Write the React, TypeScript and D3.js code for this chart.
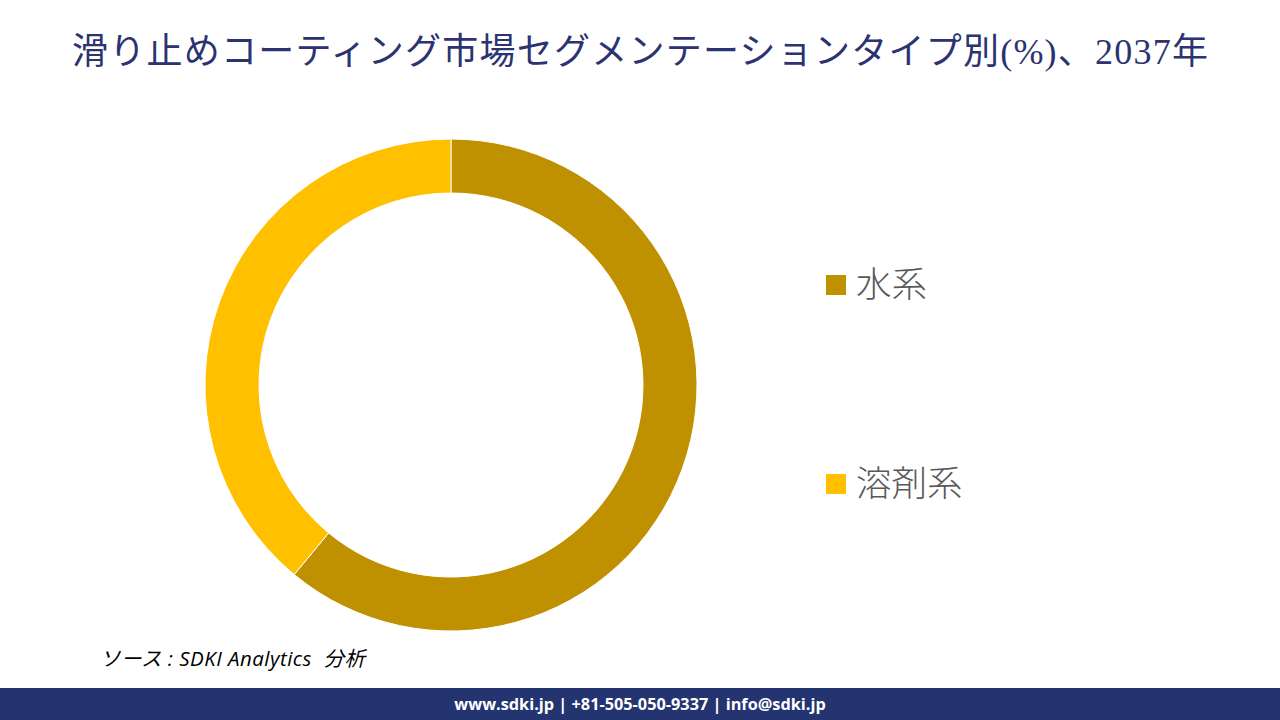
import React, { useEffect, useRef } from "react";
import * as d3 from "d3";

const categories: string[] = ["水系", "溶剤系"];
const values: number[] = [61, 39];
const colors: string[] = ["#BF9000", "#FFC000"];
const titleText = "滑り止めコーティング市場セグメンテーションタイプ別(%)、2037年";
const sourceText = "ソース : SDKI Analytics  分析";
const footerText = "www.sdki.jp | +81-505-050-9337 | info@sdki.jp";

export default function App() {
  const ref = useRef<SVGSVGElement | null>(null);

  useEffect(() => {
    const svg = d3.select(ref.current);
    svg.selectAll("*").remove();
    const W = 1280, H = 720;

    svg.append("rect").attr("width", W).attr("height", H).attr("fill", "#ffffff");

    // Title
    svg.append("text")
      .attr("x", 72).attr("y", 64)
      .attr("textLength", 1136)
      .attr("lengthAdjust", "spacing")
      .attr("font-family", "'Liberation Serif', 'DejaVu Serif', 'Noto Sans CJK JP', serif")
      .attr("font-size", 36)
      .attr("fill", "#2B3370")
      .text(titleText);

    // Donut
    const cx = 451, cy = 385;
    const pie = d3.pie<number>().sort(null).value((d) => d);
    const arc = d3.arc<d3.PieArcDatum<number>>().innerRadius(192).outerRadius(246);
    const g = svg.append("g").attr("transform", `translate(${cx},${cy})`);
    g.selectAll("path")
      .data(pie(values))
      .enter()
      .append("path")
      .attr("d", arc as any)
      .attr("fill", (_d, i) => colors[i])
      .attr("stroke", "#ffffff")
      .attr("stroke-width", 1);

    // Legend
    const legendY = d3.scalePoint<string>().domain(categories).range([285, 484]);
    const lg = svg.append("g");
    categories.forEach((c, i) => {
      const y = legendY(c)!;
      lg.append("rect")
        .attr("x", 826).attr("y", y - 10)
        .attr("width", 20).attr("height", 20)
        .attr("fill", colors[i]);
      lg.append("text")
        .attr("x", 856).attr("y", y + 12)
        .attr("font-family", "'Noto Sans CJK JP', sans-serif")
        .attr("font-weight", 300)
        .attr("font-size", 35.5)
        .attr("fill", "#595959")
        .text(c);
    });

    // Source
    svg.append("text")
      .attr("x", 100).attr("y", 666)
      .attr("textLength", 265)
      .attr("lengthAdjust", "spacing")
      .attr("font-family", "'Open Sans', 'Noto Sans CJK JP', sans-serif")
      .attr("font-style", "italic")
      .attr("font-size", 20.5)
      .attr("fill", "#000000")
      .style("white-space", "pre")
      .text(sourceText);

    // Footer
    svg.append("rect")
      .attr("x", 0).attr("y", 688).attr("width", W).attr("height", 32)
      .attr("fill", "#243470");
    svg.append("text")
      .attr("x", 640).attr("y", 710)
      .attr("text-anchor", "middle")
      .attr("font-family", "'Open Sans', sans-serif")
      .attr("font-weight", 700)
      .attr("font-size", 16.3)
      .attr("fill", "#ffffff")
      .text(footerText);
  }, []);

  return (
    <svg
      ref={ref}
      width={1280}
      height={720}
      style={{ position: "absolute", left: 0, top: 0, display: "block" }}
    />
  );
}
